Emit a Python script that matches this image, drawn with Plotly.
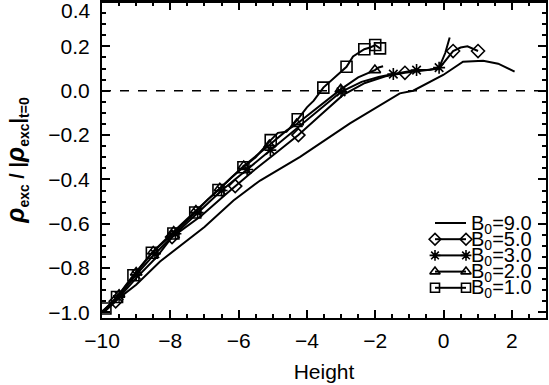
import plotly.graph_objects as go

# B0 = 9.0 (plain line)
b9_x = [-10.0, -9.0, -8.3, -7.0, -6.15, -5.37, -4.2, -2.74, -1.28, -0.89, -0.01, 0.57, 1.16, 1.6, 2.08]
b9_y = [-0.995, -0.875, -0.77, -0.615, -0.495, -0.405, -0.298, -0.147, -0.012, 0.0, 0.071, 0.131, 0.135, 0.122, 0.086]

# B0 = 5.0 (diamonds)
b5_x = [-9.95, -9.6, -9.0, -8.4, -7.95, -7.1, -6.4, -6.1, -5.6, -4.9, -4.25, -3.6, -2.95, -2.3, -1.7,
        -1.13, -0.6, -0.13, 0.28, 0.5, 0.7, 1.01]
b5_y = [-1.0, -0.95, -0.845, -0.75, -0.66, -0.565, -0.47, -0.43, -0.365, -0.28, -0.2, -0.11, -0.02,
        0.035, 0.065, 0.081, 0.09, 0.1, 0.179, 0.195, 0.2, 0.179]
b5_mx = [-9.6, -7.95, -6.1, -4.25, -1.13, 0.28, 1.01]
b5_my = [-0.95, -0.66, -0.43, -0.2, 0.081, 0.179, 0.179]

# B0 = 3.0 (stars)
b3_x = [-9.95, -9.5, -9.0, -8.45, -7.85, -7.2, -6.5, -5.75, -5.07, -4.3, -3.6, -3.0, -2.4, -1.9,
        -1.47, -1.1, -0.79, -0.4, -0.13, 0.05, 0.18]
b3_y = [-0.995, -0.925, -0.83, -0.735, -0.645, -0.55, -0.45, -0.355, -0.268, -0.17, -0.08, -0.005,
        0.04, 0.062, 0.075, 0.083, 0.093, 0.095, 0.104, 0.17, 0.24]
b3_mx = [-9.5, -9.0, -8.45, -7.85, -7.2, -6.5, -5.75, -5.07, -3.0, -1.47, -0.79, -0.13]
b3_my = [-0.925, -0.83, -0.735, -0.645, -0.55, -0.45, -0.355, -0.268, -0.005, 0.075, 0.093, 0.104]

# B0 = 2.0 (triangles)
b2_x = [-9.95, -9.5, -9.0, -8.5, -7.9, -7.25, -6.55, -5.85, -5.1, -4.6, -4.3, -3.6, -3.01, -2.5,
        -2.01, -1.9, -1.77]
b2_y = [-0.995, -0.92, -0.82, -0.725, -0.635, -0.54, -0.44, -0.34, -0.245, -0.18, -0.15, -0.065,
        0.006, 0.06, 0.093, 0.105, 0.11]
b2_mx = [-9.5, -9.0, -8.5, -7.9, -7.25, -6.55, -5.85, -5.1, -4.3, -3.01, -2.01]
b2_my = [-0.92, -0.82, -0.725, -0.635, -0.54, -0.44, -0.34, -0.245, -0.15, 0.006, 0.093]

# B0 = 1.0 (squares)
b1_x = [-9.95, -9.9, -9.56, -9.08, -8.54, -7.91, -7.27, -6.9, -6.59, -6.2, -5.86, -5.5, -5.06,
        -4.85, -4.6, -4.27, -4.0, -3.8, -3.52, -2.84, -2.65, -2.45, -2.32, -2.15, -2.0, -1.86]
b1_y = [-1.0, -0.982, -0.93, -0.832, -0.731, -0.644, -0.549, -0.49, -0.448, -0.39, -0.345, -0.3,
        -0.223, -0.19, -0.185, -0.129, -0.075, -0.045, 0.014, 0.108, 0.155, 0.175, 0.187, 0.195,
        0.206, 0.191]
b1_mx = [-9.9, -9.56, -9.08, -8.54, -7.91, -7.27, -6.59, -5.86, -5.06, -4.27, -3.52, -2.84, -2.32,
         -2.0, -1.86]
b1_my = [-0.982, -0.93, -0.832, -0.731, -0.644, -0.549, -0.448, -0.345, -0.223, -0.129, 0.014,
         0.108, 0.187, 0.206, 0.191]

y_ticks = [-1.0, -0.8, -0.6, -0.4, -0.2, 0.0, 0.2, 0.4]
legend_labels = ["B<sub>0</sub>=9.0", "B<sub>0</sub>=5.0", "B<sub>0</sub>=3.0",
                 "B<sub>0</sub>=2.0", "B<sub>0</sub>=1.0"]
legend_symbols = [None, "diamond-open", "asterisk-open", "triangle-up-open", "square-open"]

FONT = "Liberation Sans, Arial, sans-serif"
FS = 21
LW = 2
W, H = 549, 385
ML, MR, MT, MB = 102, 3, 2, 67

fig = go.Figure()

fig.add_trace(go.Scatter(x=b9_x, y=b9_y, mode="lines", line=dict(color="black", width=LW),
                         showlegend=False))

series = [
    (b5_x, b5_y, b5_mx, b5_my, "diamond-open", 10),
    (b3_x, b3_y, b3_mx, b3_my, "asterisk-open", 10),
    (b2_x, b2_y, b2_mx, b2_my, "triangle-up-open", 10),
    (b1_x, b1_y, b1_mx, b1_my, "square-open", 11),
]
for lx, ly, mx, my, sym, sz in series:
    fig.add_trace(go.Scatter(x=lx, y=ly, mode="lines", line=dict(color="black", width=LW),
                             showlegend=False))
    fig.add_trace(go.Scatter(x=mx, y=my, mode="markers", showlegend=False,
                             marker=dict(symbol=sym, size=sz, color="black",
                                         line=dict(color="black", width=1.6))))

fig.add_hline(y=0, line=dict(color="black", width=1.6, dash="dash"))
# frame line along the top edge
fig.add_shape(type="line", xref="paper", yref="paper", x0=0, x1=1, y0=1, y1=1,
              line=dict(color="black", width=2))

# legend box drawn on an overlay axis measured in page pixels
row0, drow = 223, 16.2
key_x0, key_x1, text_x = 435, 466, 469
for i, (lab, sym) in enumerate(zip(legend_labels, legend_symbols)):
    yy = row0 + drow * i
    if sym is None:
        fig.add_trace(go.Scatter(x=[key_x0, key_x1], y=[yy, yy], mode="lines", xaxis="x2",
                                 yaxis="y2", line=dict(color="black", width=LW),
                                 showlegend=False, hoverinfo="skip"))
    else:
        fig.add_trace(go.Scatter(x=[key_x0, key_x1], y=[yy, yy], mode="lines+markers",
                                 xaxis="x2", yaxis="y2", line=dict(color="black", width=LW),
                                 marker=dict(symbol=sym, size=9, color="black",
                                             line=dict(color="black", width=1.6)),
                                 showlegend=False, hoverinfo="skip"))
    fig.add_annotation(x=text_x, y=yy + 1, xref="x2", yref="y2", text=lab, showarrow=False,
                       xanchor="left", yanchor="middle",
                       font=dict(family=FONT, size=20, color="black"))

# top tick label sits just inside the page in the original
fig.add_annotation(x=0, xshift=-9, y=10, xref="paper", yref="y2", text="0.4", showarrow=False,
                   xanchor="right", yanchor="middle", font=dict(family=FONT, size=FS, color="black"))

rho = '<span style="font-size:25px"><i>ρ</i></span>'
y_title = "<b>%s<sub>exc</sub> / |%s<sub>exc</sub>|<sub>t=0</sub></b>" % (rho, rho)

axis_common = dict(
    showgrid=False, zeroline=False, showline=True, linecolor="black", linewidth=2,
    mirror="allticks", ticks="inside", ticklen=8, tickwidth=1.5, tickcolor="black",
    tickfont=dict(family=FONT, size=FS, color="black"), automargin=False,
    minor=dict(ticks="inside", ticklen=4, tickwidth=1.5, tickcolor="black"),
)

fig.update_xaxes(range=[-10, 3], dtick=2, tick0=0, minor_dtick=0.5,
                 title=dict(text="Height", font=dict(family=FONT, size=FS, color="black"),
                            standoff=13),
                 ticklabelstandoff=3, **axis_common)
fig.update_yaxes(range=[-1.025, 0.4001], tickvals=y_ticks,
                 ticktext=[("%.1f" % v).replace("-", "−") for v in y_ticks[:-1]] + [""],
                 minor_dtick=0.05, minor_tick0=0,
                 title=dict(text=y_title, font=dict(family=FONT, size=20, color="black"),
                            standoff=18),
                 ticklabelstandoff=6, **axis_common)

fig.update_layout(
    width=W, height=H,
    margin=dict(l=ML, r=MR, t=MT, b=MB),
    paper_bgcolor="white", plot_bgcolor="white",
    font=dict(family=FONT, size=FS, color="black"),
    showlegend=False,
    xaxis2=dict(overlaying="x", range=[ML, W - MR], visible=False, fixedrange=True),
    yaxis2=dict(overlaying="y", range=[H - MB, MT], visible=False, fixedrange=True),
)

fig.write_html("out.html", config={"displayModeBar": False},
               post_script="document.body.style.margin='0';document.body.style.overflow='hidden';")
